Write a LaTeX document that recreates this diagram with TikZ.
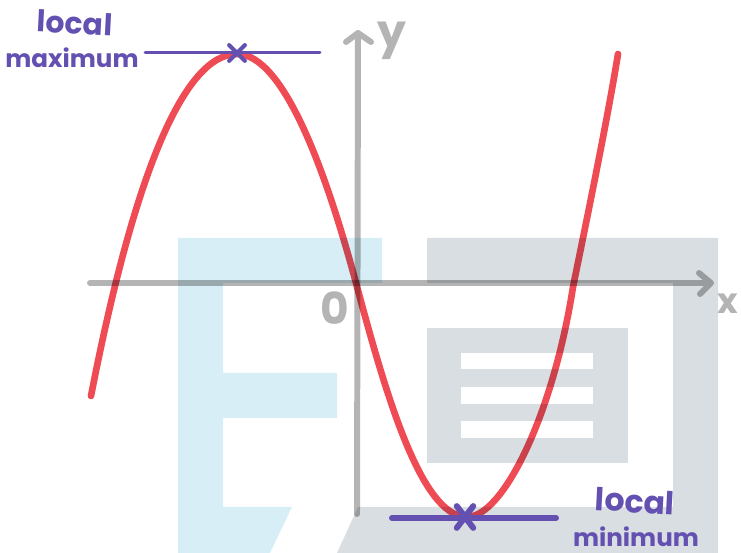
\documentclass[tikz,border=0pt]{standalone}
\usepackage{fontspec}
\setmainfont{Poppins}
\usetikzlibrary{shapes.misc}
\definecolor{markblue}{HTML}{6350B0}
\definecolor{curvered}{HTML}{EF4B55}
\definecolor{logoblue}{HTML}{D8EEF6}
\definecolor{logogray}{HTML}{D9DEE2}
\definecolor{axisgray}{HTML}{B4B4B4}
\tikzset{
  axisline/.style={draw=axisgray, line width=3.4pt, line cap=round, line join=round, blend mode=multiply},
  curveline/.style={draw=curvered, line width=3.8pt, line cap=round, line join=round, blend mode=multiply},
  axislabel/.style={text=axisgray, font=\bfseries\fontsize{26}{26}\selectfont, inner sep=0pt},
  marklabel/.style={text=markblue, font=\bfseries, inner sep=0pt, align=center},
  crossmark/.style={cross out, draw=markblue, line cap=round, inner sep=0pt},
}
\begin{document}
\begin{tikzpicture}[x=0.02cm,y=-0.02cm]
\useasboundingbox (0,0) rectangle (741,553);
% logo
\fill[logoblue] (178,238) -- (382,238) -- (382,283) -- (223,283) -- (223,373) -- (337,373) -- (337,418) -- (223,418) -- (223,507) -- (292,507) -- (270,553) -- (178,553) -- cycle;
\fill[logogray] (427,238) -- (718,238) -- (718,553) -- (337,553) -- (358,507) -- (673,507) -- (673,283) -- (427,283) -- cycle;
\fill[logogray] (427,328) rectangle (628,463);
\fill[white] (461,353) rectangle (593,369);
\fill[white] (461,387) rectangle (593,404);
\fill[white] (461,421) rectangle (593,438);
% axes
\coordinate (xstart) at (90,283);
\coordinate (xend) at (711,283);
\coordinate (ystart) at (357,514);
\coordinate (yend) at (358,33);
\draw[axisline] (xstart) -- (xend) (699,273) -- (xend) -- (700,294);
\draw[axisline] (ystart) -- (yend) (346,42) -- (yend) -- (371,42);
\node[axislabel] (ylabel) at (392,41) {y};
\node[axislabel, font=\bfseries\fontsize{25}{25}\selectfont] (origin) at (335,308) {0};
\node[axislabel, font=\bfseries\fontsize{20}{20}\selectfont] (xlabel) at (728,304) {x};
% curve
\draw[curveline] (91,396) .. controls (135,170) and (185,54) .. (237,54)
  .. controls (285,54) and (328,179) .. (356,283)
  .. controls (384,387) and (420,517) .. (467,517)
  .. controls (503,517) and (553,415) .. (573,287)
  .. controls (585,228) and (607,122) .. (618,54);
% tangents
\coordinate (maxleft) at (145,53);
\coordinate (maxright) at (320,53);
\coordinate (minleft) at (392,518);
\coordinate (minright) at (556,518);
\draw[markblue, line width=1.7pt, line cap=round] (maxleft) -- (maxright);
\draw[markblue, line width=3.4pt, line cap=round] (minleft) -- (minright);
\node[crossmark, line width=2.4pt, minimum size=6.5pt] (maxmark) at (237,53) {};
\node[crossmark, line width=3.4pt, minimum width=6pt, minimum height=9pt] (minmark) at (465,517) {};
% labels
\node[marklabel, font=\bfseries\fontsize{17}{17}\selectfont, rotate=-3] (maxtop) at (75,23) {local};
\node[marklabel, font=\bfseries\fontsize{14}{14}\selectfont] (maxbot) at (72,58) {maximum};
\node[marklabel, font=\bfseries\fontsize{18}{18}\selectfont, rotate=-3] (mintop) at (635,501) {local};
\node[marklabel, font=\bfseries\fontsize{14}{14}\selectfont] (minbot) at (636,537) {minimum};
\end{tikzpicture}
\end{document}
